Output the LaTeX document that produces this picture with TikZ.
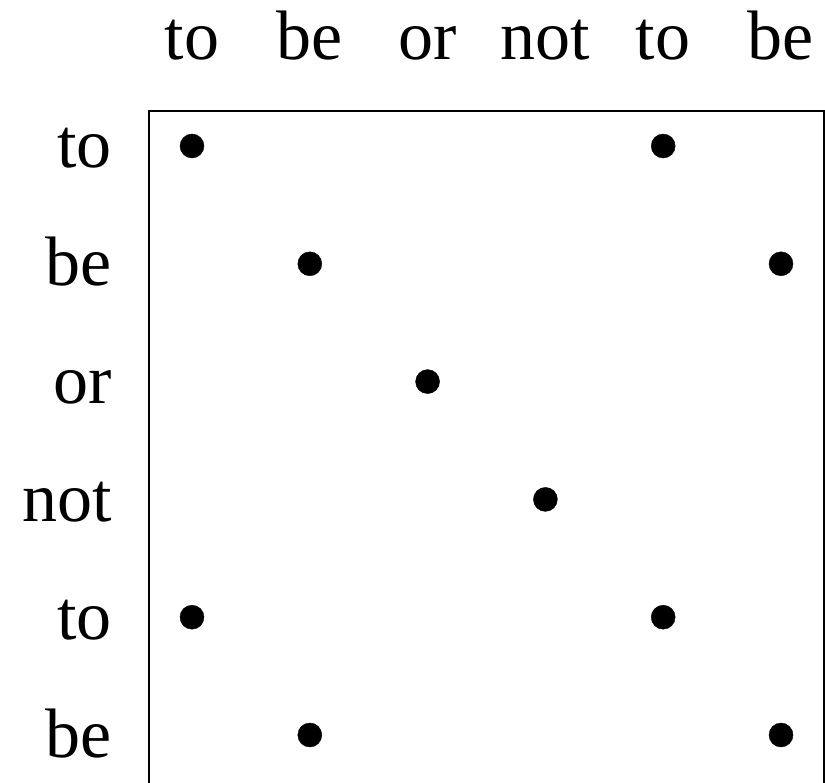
\documentclass[tikz,border=0pt]{standalone}
\usepackage{fontspec}
\setmainfont{Liberation Serif}
\newcommand{\titik}[1]{\foreach \p in {#1} \filldraw (\p) circle (12);}

\begin{document}
\begin{tikzpicture}[x=1pt,y=-1pt,font=\fontsize{70}{80}\selectfont]
  \useasboundingbox (0,0) rectangle (825,783);
  \coordinate (BL) at (149,783);
  \coordinate (TL) at (149,111);
  \coordinate (TR) at (824,111);
  \coordinate (BR) at (824,783);

  \draw[line width=2] (BL) -- (TL) -- (TR) -- (BR);

  \foreach \w [count=\i] in {to,be,or,not,to,be} {
    \node[anchor=base,inner sep=0] (c\i) at (192+117.8*\i-117.8,60) {\w};
    \node[anchor=base east,inner sep=0] (r\i) at (112,168+117.8*\i-117.8) {\w};
    \foreach \j in {1,...,6}
      \coordinate (p\i\j) at (192+117.8*\j-117.8,146+117.8*\i-117.8);
  }

  \titik{p11,p15,p22,p26,p33,p44,p51,p55,p62,p66}
\end{tikzpicture}
\end{document}
